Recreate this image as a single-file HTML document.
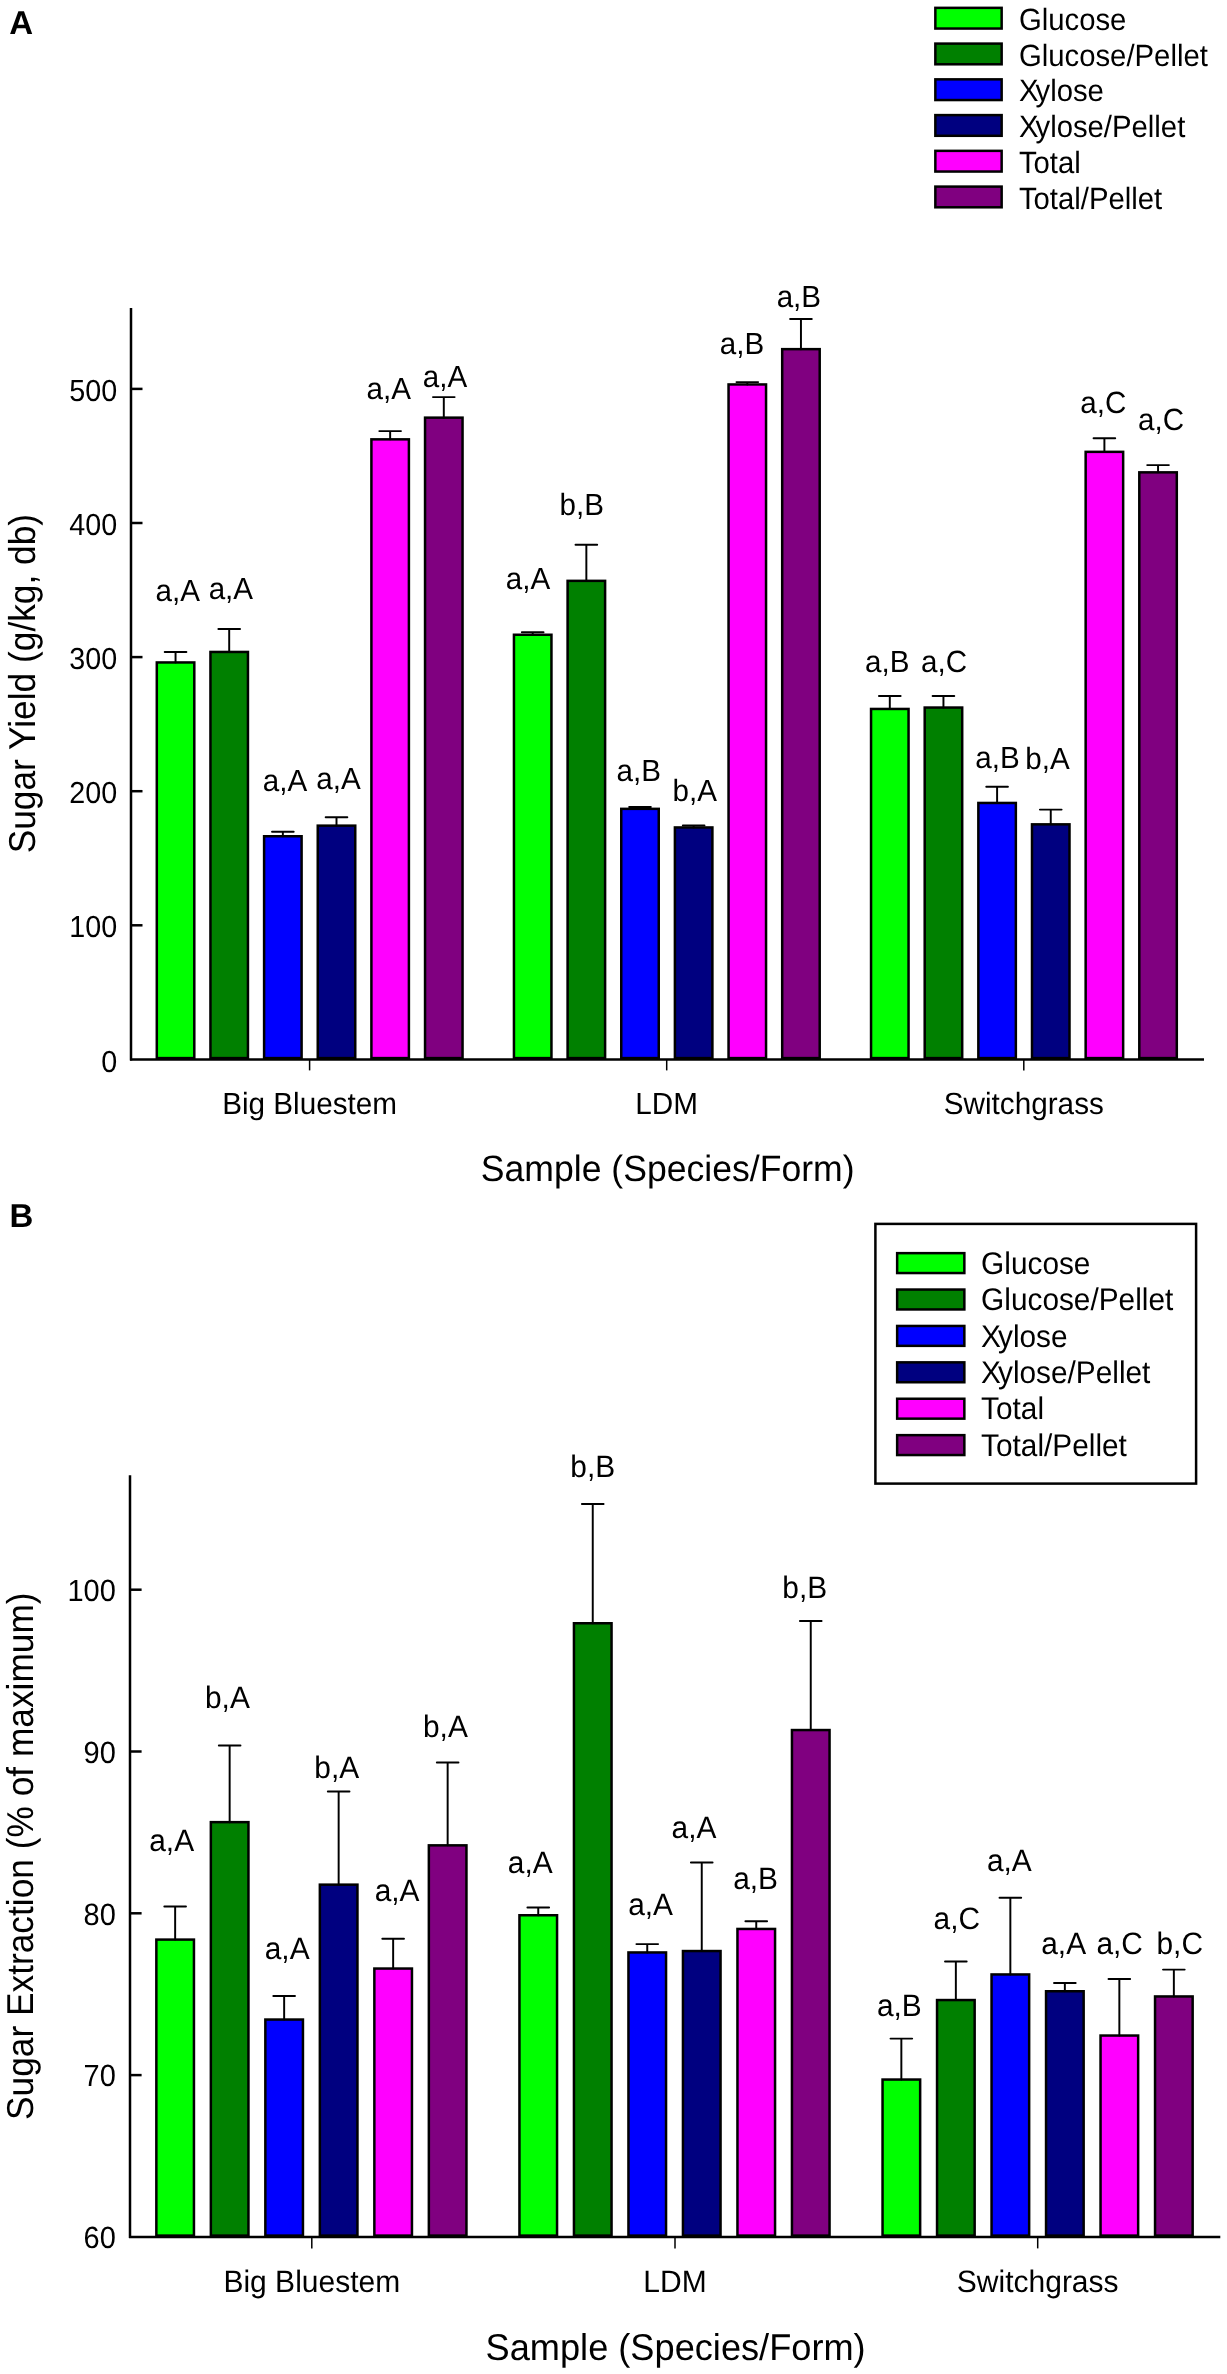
<!DOCTYPE html>
<html><head><meta charset="utf-8"><title>Sugar yield charts</title>
<style>
html,body{margin:0;padding:0;background:#fff;}
body{width:1227px;height:2374px;overflow:hidden;}
svg{display:block;font-family:"Liberation Sans", sans-serif;will-change:transform;text-rendering:geometricPrecision;}
text{fill:#000;}
</style></head>
<body>
<svg width="1227" height="2374" viewBox="0 0 1227 2374">
<rect width="1227" height="2374" fill="#fff"/>
<text x="9.18" y="33.50" font-size="33" text-anchor="start" font-weight="bold" >A</text>
<rect x="935.35" y="7.85" width="66.30" height="20.70" fill="#00ff00" stroke="#000" stroke-width="2.5"/>
<text transform="translate(1018.93,29.80) scale(1,1.05)" font-size="29.3" text-anchor="start" font-weight="normal" >Glucose</text>
<rect x="935.35" y="43.60" width="66.30" height="20.70" fill="#008000" stroke="#000" stroke-width="2.5"/>
<text transform="translate(1018.93,65.55) scale(1,1.05)" font-size="29.3" text-anchor="start" font-weight="normal" >Glucose/Pellet</text>
<rect x="935.35" y="79.35" width="66.30" height="20.70" fill="#0000ff" stroke="#000" stroke-width="2.5"/>
<text transform="translate(1018.93,101.30) scale(1,1.05)" font-size="29.3" text-anchor="start" font-weight="normal" >X<tspan dx="-3">ylose</tspan></text>
<rect x="935.35" y="115.10" width="66.30" height="20.70" fill="#000080" stroke="#000" stroke-width="2.5"/>
<text transform="translate(1018.93,137.05) scale(1,1.05)" font-size="29.3" text-anchor="start" font-weight="normal" >X<tspan dx="-3">ylose/Pellet</tspan></text>
<rect x="935.35" y="150.85" width="66.30" height="20.70" fill="#ff00ff" stroke="#000" stroke-width="2.5"/>
<text transform="translate(1018.93,172.80) scale(1,1.05)" font-size="29.3" text-anchor="start" font-weight="normal" >Total</text>
<rect x="935.35" y="186.60" width="66.30" height="20.70" fill="#800080" stroke="#000" stroke-width="2.5"/>
<text transform="translate(1018.93,208.55) scale(1,1.05)" font-size="29.3" text-anchor="start" font-weight="normal" >Total/Pellet</text>
<line x1="131.0" y1="308.0" x2="131.0" y2="1060.4" stroke="#000" stroke-width="2.5"/>
<text transform="translate(117.15,1071.55) scale(1,1.06)" font-size="28.7" text-anchor="end" font-weight="normal" >0</text>
<line x1="131.0" y1="925.30" x2="142.50" y2="925.30" stroke="#000" stroke-width="2.5"/>
<text transform="translate(117.15,937.45) scale(1,1.06)" font-size="28.7" text-anchor="end" font-weight="normal" >100</text>
<line x1="131.0" y1="791.20" x2="142.50" y2="791.20" stroke="#000" stroke-width="2.5"/>
<text transform="translate(117.15,803.35) scale(1,1.06)" font-size="28.7" text-anchor="end" font-weight="normal" >200</text>
<line x1="131.0" y1="657.10" x2="142.50" y2="657.10" stroke="#000" stroke-width="2.5"/>
<text transform="translate(117.15,669.25) scale(1,1.06)" font-size="28.7" text-anchor="end" font-weight="normal" >300</text>
<line x1="131.0" y1="523.00" x2="142.50" y2="523.00" stroke="#000" stroke-width="2.5"/>
<text transform="translate(117.15,535.15) scale(1,1.06)" font-size="28.7" text-anchor="end" font-weight="normal" >400</text>
<line x1="131.0" y1="388.90" x2="142.50" y2="388.90" stroke="#000" stroke-width="2.5"/>
<text transform="translate(117.15,401.05) scale(1,1.06)" font-size="28.7" text-anchor="end" font-weight="normal" >500</text>
<rect x="156.80" y="662.45" width="37.50" height="395.65" fill="#00ff00" stroke="#000" stroke-width="2.5"/>
<path d="M175.55 662.45V652.00M164.73 652.00H186.38" fill="none" stroke="#000" stroke-width="1.95" stroke-linecap="round"/>
<text transform="translate(155.46,601.40) scale(1,1.035)" font-size="29.6" text-anchor="start" font-weight="normal" >a,A</text>
<rect x="210.45" y="651.95" width="37.50" height="406.15" fill="#008000" stroke="#000" stroke-width="2.5"/>
<path d="M229.20 651.95V629.00M218.38 629.00H240.03" fill="none" stroke="#000" stroke-width="1.95" stroke-linecap="round"/>
<text transform="translate(208.66,599.10) scale(1,1.035)" font-size="29.6" text-anchor="start" font-weight="normal" >a,A</text>
<rect x="264.10" y="836.25" width="37.50" height="221.85" fill="#0000ff" stroke="#000" stroke-width="2.5"/>
<path d="M282.85 836.25V831.70M272.03 831.70H293.68" fill="none" stroke="#000" stroke-width="1.95" stroke-linecap="round"/>
<text transform="translate(262.76,790.60) scale(1,1.035)" font-size="29.6" text-anchor="start" font-weight="normal" >a,A</text>
<rect x="317.75" y="825.65" width="37.50" height="232.45" fill="#000080" stroke="#000" stroke-width="2.5"/>
<path d="M336.50 825.65V817.30M325.68 817.30H347.32" fill="none" stroke="#000" stroke-width="1.95" stroke-linecap="round"/>
<text transform="translate(316.26,788.60) scale(1,1.035)" font-size="29.6" text-anchor="start" font-weight="normal" >a,A</text>
<rect x="371.40" y="439.35" width="37.50" height="618.75" fill="#ff00ff" stroke="#000" stroke-width="2.5"/>
<path d="M390.15 439.35V431.10M379.32 431.10H400.97" fill="none" stroke="#000" stroke-width="1.95" stroke-linecap="round"/>
<text transform="translate(366.56,398.60) scale(1,1.035)" font-size="29.6" text-anchor="start" font-weight="normal" >a,A</text>
<rect x="425.05" y="417.65" width="37.50" height="640.45" fill="#800080" stroke="#000" stroke-width="2.5"/>
<path d="M443.80 417.65V397.10M432.98 397.10H454.62" fill="none" stroke="#000" stroke-width="1.95" stroke-linecap="round"/>
<text transform="translate(422.86,386.80) scale(1,1.035)" font-size="29.6" text-anchor="start" font-weight="normal" >a,A</text>
<rect x="513.95" y="634.75" width="37.50" height="423.35" fill="#00ff00" stroke="#000" stroke-width="2.5"/>
<path d="M532.70 634.75V632.20M521.88 632.20H543.53" fill="none" stroke="#000" stroke-width="1.95" stroke-linecap="round"/>
<text transform="translate(505.76,589.40) scale(1,1.035)" font-size="29.6" text-anchor="start" font-weight="normal" >a,A</text>
<rect x="567.60" y="580.85" width="37.50" height="477.25" fill="#008000" stroke="#000" stroke-width="2.5"/>
<path d="M586.35 580.85V544.70M575.52 544.70H597.18" fill="none" stroke="#000" stroke-width="1.95" stroke-linecap="round"/>
<text transform="translate(559.48,515.30) scale(1,1.035)" font-size="29.6" text-anchor="start" font-weight="normal" >b,B</text>
<rect x="621.25" y="808.85" width="37.50" height="249.25" fill="#0000ff" stroke="#000" stroke-width="2.5"/>
<path d="M640.00 808.85V807.00M629.17 807.00H650.83" fill="none" stroke="#000" stroke-width="1.95" stroke-linecap="round"/>
<text transform="translate(616.56,780.50) scale(1,1.035)" font-size="29.6" text-anchor="start" font-weight="normal" >a,B</text>
<rect x="674.90" y="827.45" width="37.50" height="230.65" fill="#000080" stroke="#000" stroke-width="2.5"/>
<path d="M693.65 827.45V825.40M682.83 825.40H704.48" fill="none" stroke="#000" stroke-width="1.95" stroke-linecap="round"/>
<text transform="translate(672.58,800.60) scale(1,1.035)" font-size="29.6" text-anchor="start" font-weight="normal" >b,A</text>
<rect x="728.55" y="384.45" width="37.50" height="673.65" fill="#ff00ff" stroke="#000" stroke-width="2.5"/>
<path d="M747.30 384.45V382.10M736.48 382.10H758.13" fill="none" stroke="#000" stroke-width="1.95" stroke-linecap="round"/>
<text transform="translate(719.76,353.60) scale(1,1.035)" font-size="29.6" text-anchor="start" font-weight="normal" >a,B</text>
<rect x="782.20" y="349.15" width="37.50" height="708.95" fill="#800080" stroke="#000" stroke-width="2.5"/>
<path d="M800.95 349.15V318.90M790.12 318.90H811.78" fill="none" stroke="#000" stroke-width="1.95" stroke-linecap="round"/>
<text transform="translate(776.66,307.20) scale(1,1.035)" font-size="29.6" text-anchor="start" font-weight="normal" >a,B</text>
<rect x="871.05" y="708.95" width="37.50" height="349.15" fill="#00ff00" stroke="#000" stroke-width="2.5"/>
<path d="M889.80 708.95V696.00M878.97 696.00H900.62" fill="none" stroke="#000" stroke-width="1.95" stroke-linecap="round"/>
<text transform="translate(864.96,671.50) scale(1,1.035)" font-size="29.6" text-anchor="start" font-weight="normal" >a,B</text>
<rect x="924.70" y="707.55" width="37.50" height="350.55" fill="#008000" stroke="#000" stroke-width="2.5"/>
<path d="M943.45 707.55V696.00M932.62 696.00H954.27" fill="none" stroke="#000" stroke-width="1.95" stroke-linecap="round"/>
<text transform="translate(921.06,671.50) scale(1,1.035)" font-size="29.6" text-anchor="start" font-weight="normal" >a,C</text>
<rect x="978.35" y="802.95" width="37.50" height="255.15" fill="#0000ff" stroke="#000" stroke-width="2.5"/>
<path d="M997.10 802.95V786.70M986.27 786.70H1007.92" fill="none" stroke="#000" stroke-width="1.95" stroke-linecap="round"/>
<text transform="translate(975.26,767.50) scale(1,1.035)" font-size="29.6" text-anchor="start" font-weight="normal" >a,B</text>
<rect x="1032.00" y="824.35" width="37.50" height="233.75" fill="#000080" stroke="#000" stroke-width="2.5"/>
<path d="M1050.75 824.35V809.60M1039.92 809.60H1061.58" fill="none" stroke="#000" stroke-width="1.95" stroke-linecap="round"/>
<text transform="translate(1025.28,769.00) scale(1,1.035)" font-size="29.6" text-anchor="start" font-weight="normal" >b,A</text>
<rect x="1085.65" y="451.85" width="37.50" height="606.25" fill="#ff00ff" stroke="#000" stroke-width="2.5"/>
<path d="M1104.40 451.85V438.30M1093.57 438.30H1115.22" fill="none" stroke="#000" stroke-width="1.95" stroke-linecap="round"/>
<text transform="translate(1080.26,412.50) scale(1,1.035)" font-size="29.6" text-anchor="start" font-weight="normal" >a,C</text>
<rect x="1139.30" y="472.35" width="37.50" height="585.75" fill="#800080" stroke="#000" stroke-width="2.5"/>
<path d="M1158.05 472.35V465.10M1147.22 465.10H1168.88" fill="none" stroke="#000" stroke-width="1.95" stroke-linecap="round"/>
<text transform="translate(1137.96,429.50) scale(1,1.035)" font-size="29.6" text-anchor="start" font-weight="normal" >a,C</text>
<line x1="130.0" y1="1059.4" x2="1204.0" y2="1059.4" stroke="#000" stroke-width="2.5"/>
<line x1="309.6" y1="1059.4" x2="309.6" y2="1070.4" stroke="#000" stroke-width="1.5"/>
<text transform="translate(309.60,1114.00) scale(1,1.03)" font-size="29.7" text-anchor="middle" font-weight="normal" >Big Bluestem</text>
<line x1="666.7" y1="1059.4" x2="666.7" y2="1070.4" stroke="#000" stroke-width="1.5"/>
<text transform="translate(666.70,1114.00) scale(1,1.03)" font-size="29.7" text-anchor="middle" font-weight="normal" >LDM</text>
<line x1="1023.8" y1="1059.4" x2="1023.8" y2="1070.4" stroke="#000" stroke-width="1.5"/>
<text transform="translate(1023.80,1114.00) scale(1,1.03)" font-size="29.7" text-anchor="middle" font-weight="normal" >Switchgrass</text>
<text transform="translate(667.70,1180.70) scale(1,1.03)" font-size="35.6" text-anchor="middle" font-weight="normal" >Sample (Species/Form)</text>
<text transform="translate(35.2,683.6) rotate(-90) scale(1,1.06)" font-size="35.3" text-anchor="middle">Sugar Yield (g/kg, db)</text>
<text x="9.49" y="1227.00" font-size="33" text-anchor="start" font-weight="bold" >B</text>
<rect x="875.4" y="1223.9" width="320.7" height="259.7" fill="none" stroke="#000" stroke-width="2.5"/>
<rect x="897.15" y="1253.15" width="67.20" height="19.90" fill="#00ff00" stroke="#000" stroke-width="2.5"/>
<text transform="translate(981.11,1273.70) scale(1,1.05)" font-size="29.8" text-anchor="start" font-weight="normal" >Glucose</text>
<rect x="897.15" y="1289.55" width="67.20" height="19.90" fill="#008000" stroke="#000" stroke-width="2.5"/>
<text transform="translate(981.11,1310.10) scale(1,1.05)" font-size="29.8" text-anchor="start" font-weight="normal" >Glucose/Pellet</text>
<rect x="897.15" y="1325.95" width="67.20" height="19.90" fill="#0000ff" stroke="#000" stroke-width="2.5"/>
<text transform="translate(981.11,1346.50) scale(1,1.05)" font-size="29.8" text-anchor="start" font-weight="normal" >X<tspan dx="-3">ylose</tspan></text>
<rect x="897.15" y="1362.35" width="67.20" height="19.90" fill="#000080" stroke="#000" stroke-width="2.5"/>
<text transform="translate(981.11,1382.90) scale(1,1.05)" font-size="29.8" text-anchor="start" font-weight="normal" >X<tspan dx="-3">ylose/Pellet</tspan></text>
<rect x="897.15" y="1398.75" width="67.20" height="19.90" fill="#ff00ff" stroke="#000" stroke-width="2.5"/>
<text transform="translate(981.11,1419.30) scale(1,1.05)" font-size="29.8" text-anchor="start" font-weight="normal" >Total</text>
<rect x="897.15" y="1435.15" width="67.20" height="19.90" fill="#800080" stroke="#000" stroke-width="2.5"/>
<text transform="translate(981.11,1455.70) scale(1,1.05)" font-size="29.8" text-anchor="start" font-weight="normal" >Total/Pellet</text>
<line x1="130.0" y1="1475.2" x2="130.0" y2="2237.9" stroke="#000" stroke-width="2.5"/>
<text transform="translate(115.76,2248.15) scale(1,1.06)" font-size="28.987" text-anchor="end" font-weight="normal" >60</text>
<line x1="130.0" y1="2075.10" x2="141.60" y2="2075.10" stroke="#000" stroke-width="2.5"/>
<text transform="translate(115.76,2086.35) scale(1,1.06)" font-size="28.987" text-anchor="end" font-weight="normal" >70</text>
<line x1="130.0" y1="1913.30" x2="141.60" y2="1913.30" stroke="#000" stroke-width="2.5"/>
<text transform="translate(115.76,1924.55) scale(1,1.06)" font-size="28.987" text-anchor="end" font-weight="normal" >80</text>
<line x1="130.0" y1="1751.50" x2="141.60" y2="1751.50" stroke="#000" stroke-width="2.5"/>
<text transform="translate(115.76,1762.75) scale(1,1.06)" font-size="28.987" text-anchor="end" font-weight="normal" >90</text>
<line x1="130.0" y1="1589.70" x2="141.60" y2="1589.70" stroke="#000" stroke-width="2.5"/>
<text transform="translate(115.76,1600.95) scale(1,1.06)" font-size="28.987" text-anchor="end" font-weight="normal" >100</text>
<rect x="156.35" y="1939.60" width="37.60" height="296.00" fill="#00ff00" stroke="#000" stroke-width="2.5"/>
<path d="M175.15 1939.60V1906.50M164.33 1906.50H185.97" fill="none" stroke="#000" stroke-width="1.95" stroke-linecap="round"/>
<text transform="translate(149.24,1850.70) scale(1,1.035)" font-size="29.896" text-anchor="start" font-weight="normal" >a,A</text>
<rect x="210.85" y="1822.15" width="37.60" height="413.45" fill="#008000" stroke="#000" stroke-width="2.5"/>
<path d="M229.65 1822.15V1745.40M218.83 1745.40H240.47" fill="none" stroke="#000" stroke-width="1.95" stroke-linecap="round"/>
<text transform="translate(204.96,1707.50) scale(1,1.035)" font-size="29.896" text-anchor="start" font-weight="normal" >b,A</text>
<rect x="265.35" y="2019.55" width="37.60" height="216.05" fill="#0000ff" stroke="#000" stroke-width="2.5"/>
<path d="M284.15 2019.55V1996.00M273.33 1996.00H294.98" fill="none" stroke="#000" stroke-width="1.95" stroke-linecap="round"/>
<text transform="translate(264.74,1959.00) scale(1,1.035)" font-size="29.896" text-anchor="start" font-weight="normal" >a,A</text>
<rect x="319.85" y="1884.65" width="37.60" height="350.95" fill="#000080" stroke="#000" stroke-width="2.5"/>
<path d="M338.65 1884.65V1791.50M327.83 1791.50H349.48" fill="none" stroke="#000" stroke-width="1.95" stroke-linecap="round"/>
<text transform="translate(314.36,1778.00) scale(1,1.035)" font-size="29.896" text-anchor="start" font-weight="normal" >b,A</text>
<rect x="374.35" y="1968.55" width="37.60" height="267.05" fill="#ff00ff" stroke="#000" stroke-width="2.5"/>
<path d="M393.15 1968.55V1938.80M382.33 1938.80H403.98" fill="none" stroke="#000" stroke-width="1.95" stroke-linecap="round"/>
<text transform="translate(374.64,1901.20) scale(1,1.035)" font-size="29.896" text-anchor="start" font-weight="normal" >a,A</text>
<rect x="428.85" y="1845.35" width="37.60" height="390.25" fill="#800080" stroke="#000" stroke-width="2.5"/>
<path d="M447.65 1845.35V1762.40M436.83 1762.40H458.48" fill="none" stroke="#000" stroke-width="1.95" stroke-linecap="round"/>
<text transform="translate(422.96,1736.90) scale(1,1.035)" font-size="29.896" text-anchor="start" font-weight="normal" >b,A</text>
<rect x="519.45" y="1915.25" width="37.60" height="320.35" fill="#00ff00" stroke="#000" stroke-width="2.5"/>
<path d="M538.25 1915.25V1907.40M527.42 1907.40H549.08" fill="none" stroke="#000" stroke-width="1.95" stroke-linecap="round"/>
<text transform="translate(507.84,1872.80) scale(1,1.035)" font-size="29.896" text-anchor="start" font-weight="normal" >a,A</text>
<rect x="573.95" y="1623.25" width="37.60" height="612.35" fill="#008000" stroke="#000" stroke-width="2.5"/>
<path d="M592.75 1623.25V1504.00M581.92 1504.00H603.58" fill="none" stroke="#000" stroke-width="1.95" stroke-linecap="round"/>
<text transform="translate(570.26,1477.30) scale(1,1.035)" font-size="29.896" text-anchor="start" font-weight="normal" >b,B</text>
<rect x="628.45" y="1952.45" width="37.60" height="283.15" fill="#0000ff" stroke="#000" stroke-width="2.5"/>
<path d="M647.25 1952.45V1944.10M636.42 1944.10H658.08" fill="none" stroke="#000" stroke-width="1.95" stroke-linecap="round"/>
<text transform="translate(628.14,1915.40) scale(1,1.035)" font-size="29.896" text-anchor="start" font-weight="normal" >a,A</text>
<rect x="682.95" y="1951.05" width="37.60" height="284.55" fill="#000080" stroke="#000" stroke-width="2.5"/>
<path d="M701.75 1951.05V1862.50M690.92 1862.50H712.58" fill="none" stroke="#000" stroke-width="1.95" stroke-linecap="round"/>
<text transform="translate(671.54,1837.60) scale(1,1.035)" font-size="29.896" text-anchor="start" font-weight="normal" >a,A</text>
<rect x="737.45" y="1928.95" width="37.60" height="306.65" fill="#ff00ff" stroke="#000" stroke-width="2.5"/>
<path d="M756.25 1928.95V1921.20M745.42 1921.20H767.08" fill="none" stroke="#000" stroke-width="1.95" stroke-linecap="round"/>
<text transform="translate(733.14,1888.90) scale(1,1.035)" font-size="29.896" text-anchor="start" font-weight="normal" >a,B</text>
<rect x="791.95" y="1730.05" width="37.60" height="505.55" fill="#800080" stroke="#000" stroke-width="2.5"/>
<path d="M810.75 1730.05V1621.00M799.92 1621.00H821.58" fill="none" stroke="#000" stroke-width="1.95" stroke-linecap="round"/>
<text transform="translate(782.36,1598.40) scale(1,1.035)" font-size="29.896" text-anchor="start" font-weight="normal" >b,B</text>
<rect x="882.55" y="2079.55" width="37.60" height="156.05" fill="#00ff00" stroke="#000" stroke-width="2.5"/>
<path d="M901.35 2079.55V2038.60M890.52 2038.60H912.17" fill="none" stroke="#000" stroke-width="1.95" stroke-linecap="round"/>
<text transform="translate(876.94,2016.00) scale(1,1.035)" font-size="29.896" text-anchor="start" font-weight="normal" >a,B</text>
<rect x="937.05" y="2000.05" width="37.60" height="235.55" fill="#008000" stroke="#000" stroke-width="2.5"/>
<path d="M955.85 2000.05V1961.40M945.02 1961.40H966.67" fill="none" stroke="#000" stroke-width="1.95" stroke-linecap="round"/>
<text transform="translate(933.54,1928.60) scale(1,1.035)" font-size="29.896" text-anchor="start" font-weight="normal" >a,C</text>
<rect x="991.55" y="1974.45" width="37.60" height="261.15" fill="#0000ff" stroke="#000" stroke-width="2.5"/>
<path d="M1010.35 1974.45V1897.80M999.52 1897.80H1021.17" fill="none" stroke="#000" stroke-width="1.95" stroke-linecap="round"/>
<text transform="translate(986.94,1871.40) scale(1,1.035)" font-size="29.896" text-anchor="start" font-weight="normal" >a,A</text>
<rect x="1046.05" y="1991.25" width="37.60" height="244.35" fill="#000080" stroke="#000" stroke-width="2.5"/>
<path d="M1064.85 1991.25V1982.90M1054.02 1982.90H1075.67" fill="none" stroke="#000" stroke-width="1.95" stroke-linecap="round"/>
<text transform="translate(1041.24,1953.50) scale(1,1.035)" font-size="29.896" text-anchor="start" font-weight="normal" >a,A</text>
<rect x="1100.55" y="2035.55" width="37.60" height="200.05" fill="#ff00ff" stroke="#000" stroke-width="2.5"/>
<path d="M1119.35 2035.55V1979.00M1108.52 1979.00H1130.17" fill="none" stroke="#000" stroke-width="1.95" stroke-linecap="round"/>
<text transform="translate(1096.44,1953.50) scale(1,1.035)" font-size="29.896" text-anchor="start" font-weight="normal" >a,C</text>
<rect x="1155.05" y="1996.45" width="37.60" height="239.15" fill="#800080" stroke="#000" stroke-width="2.5"/>
<path d="M1173.85 1996.45V1969.60M1163.02 1969.60H1184.67" fill="none" stroke="#000" stroke-width="1.95" stroke-linecap="round"/>
<text transform="translate(1156.46,1953.50) scale(1,1.035)" font-size="29.896" text-anchor="start" font-weight="normal" >b,C</text>
<line x1="129.0" y1="2236.9" x2="1220.3" y2="2236.9" stroke="#000" stroke-width="2.5"/>
<line x1="311.8" y1="2236.9" x2="311.8" y2="2248.4" stroke="#000" stroke-width="1.5"/>
<text transform="translate(311.80,2292.00) scale(1,1.03)" font-size="30.0" text-anchor="middle" font-weight="normal" >Big Bluestem</text>
<line x1="675.0" y1="2236.9" x2="675.0" y2="2248.4" stroke="#000" stroke-width="1.5"/>
<text transform="translate(675.00,2292.00) scale(1,1.03)" font-size="30.0" text-anchor="middle" font-weight="normal" >LDM</text>
<line x1="1037.7" y1="2236.9" x2="1037.7" y2="2248.4" stroke="#000" stroke-width="1.5"/>
<text transform="translate(1037.70,2292.00) scale(1,1.03)" font-size="30.0" text-anchor="middle" font-weight="normal" >Switchgrass</text>
<text transform="translate(675.60,2360.00) scale(1,1.03)" font-size="36.2" text-anchor="middle" font-weight="normal" >Sample (Species/Form)</text>
<text transform="translate(32.6,1856.2) rotate(-90) scale(1,1.06)" font-size="35.3" text-anchor="middle">Sugar Extraction (% of maximum)</text>
</svg>
</body></html>
